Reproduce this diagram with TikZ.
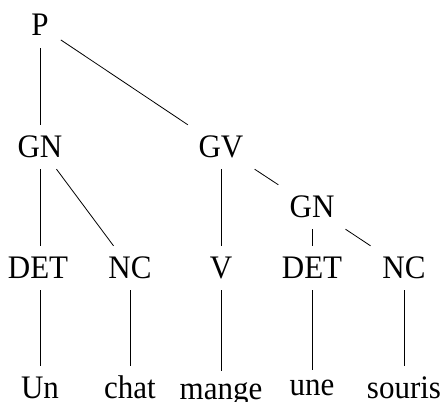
\documentclass[tikz,border=0pt]{standalone}
\usepackage{fontspec}
\setmainfont{Liberation Serif}
\newcommand{\tall}[1]{\scalebox{1}[1.06]{#1}}
\begin{document}
\begin{tikzpicture}[x=1pt,y=-1pt,
  lbl/.style={anchor=base, inner sep=12pt, text height=20pt, text depth=0pt, font=\fontsize{31}{36}\selectfont},
  edge/.style={draw=black, line width=0.8pt}]
\useasboundingbox (0,0) rectangle (443,401);
% categories
\node[lbl] (P)   at (40,36)   {\tall{P}};
\node[lbl] (GN1) at (40,157)  {\tall{GN}};
\node[lbl] (GV)  at (221,157) {\tall{GV}};
\node[lbl] (GN2) at (312,217) {\tall{GN}};
\node[lbl] (DET1) at (38,278) {\tall{DET}};
\node[lbl] (NC1) at (130,278) {\tall{NC}};
\node[lbl] (V)   at (221,278) {\tall{V}};
\node[lbl] (DET2) at (312,278) {\tall{DET}};
\node[lbl] (NC2) at (404,278) {\tall{NC}};
% words
\node[lbl] (w1) at (40,398)  {\tall{Un}};
\node[lbl] (w2) at (130,398) {\tall{chat}};
\node[lbl, text height=16pt] (w3) at (221,399) {\tall{mange}};
\node[lbl, text height=13pt] (w4) at (312,395) {\tall{une}};
\node[lbl] (w5) at (404,398) {\tall{souris}};
% edges
\draw[edge] (P) -- (GN1);
\draw[edge] (P) -- (GV);
\draw[edge] (GN1) -- (DET1.north -| GN1);
\draw[edge] (GN1) -- (NC1);
\draw[edge] (GV) -- (V);
\draw[edge] (GV) -- (GN2);
\draw[edge] (GN2) -- (DET2);
\draw[edge] (GN2) -- (NC2);
\draw[edge] (DET1.south -| w1) -- (w1);
\draw[edge] (NC1) -- (w2);
\draw[edge] (V) -- (w3);
\draw[edge] (DET2) -- (w4);
\draw[edge] (NC2) -- (w5);
\end{tikzpicture}
\end{document}
